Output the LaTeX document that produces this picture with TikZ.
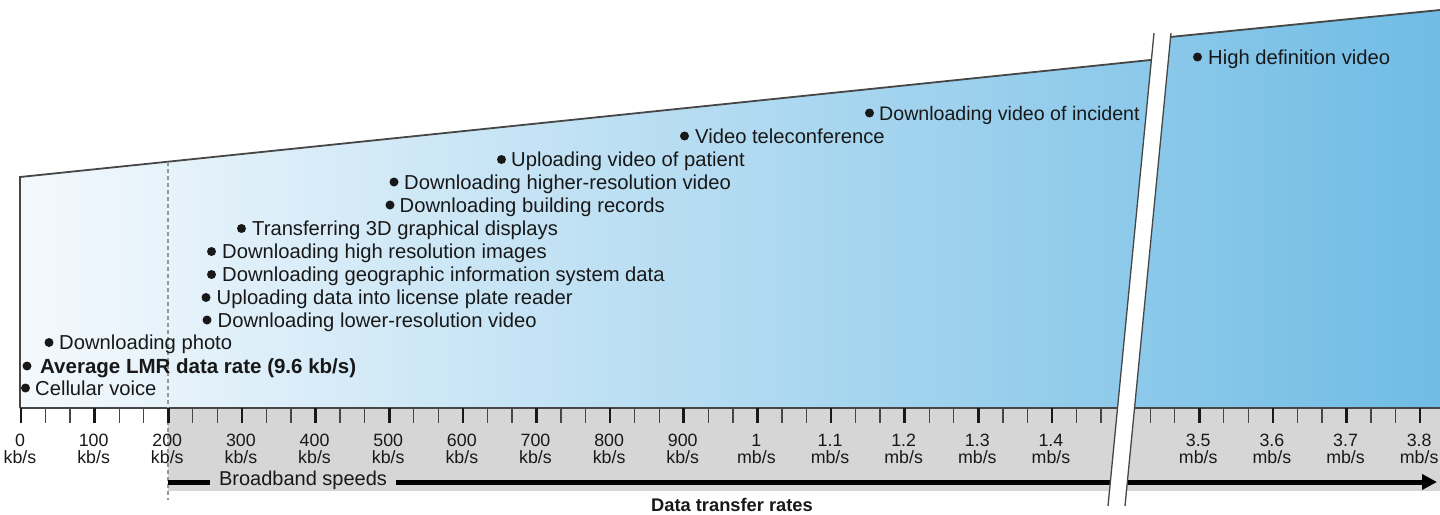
\documentclass[tikz,border=0pt]{standalone}
\usepackage{fontspec}
\setmainfont{Liberation Sans}
\usetikzlibrary{arrows.meta}
\definecolor{bandgray}{RGB}{214,214,214}
\definecolor{edgegray}{RGB}{70,70,70}
\definecolor{blueL}{RGB}{244,249,253}
\definecolor{blueM}{RGB}{192,223,242}
\definecolor{blueR}{RGB}{112,188,229}
\definecolor{txt}{RGB}{24,24,24}
\definecolor{dashgray}{RGB}{150,150,150}
\begin{document}
\begin{tikzpicture}[x=1pt,y=-1pt,
  item/.style={anchor=base west, inner sep=0pt, font=\fontsize{20.2}{24}\selectfont, text=txt},
  bulletdot/.style={circle, fill=txt, inner sep=0pt, minimum size=9pt},
  ticklabel/.style={align=center, inner sep=0pt, font=\fontsize{17.8}{17}\selectfont, text=txt},
  minortick/.style={line width=1.3pt, draw=edgegray},
  majortick/.style={line width=2.6pt, draw=txt},
  edgeline/.style={draw=edgegray, line width=1.8pt}]

\useasboundingbox (0,0) rectangle (1440,514);

% gray scale band
\fill[bandgray] (168,408) rectangle (1440,491);

% blue gradient region
\begin{scope}
\clip (20,408) -- (20,177) -- (1160,59) -- (1160,38) -- (1440,10) -- (1440,408) -- cycle;
\shade[left color=blueL, middle color=blueM, right color=blueR] (20,0) rectangle (1440,408);
\end{scope}

% borders
\draw[edgeline] (20,408) -- (20,177) -- (1160,59);
\draw[edgeline] (1160,38) -- (1440,10);
\draw[edgeline, line width=1.5pt] (20,408) -- (1440,408);

% dashed 200 kb/s line
\draw[draw=dashgray, dash pattern=on 4pt off 3pt, line width=1.2pt] (168,162) -- (168,500);

% ticks
\foreach \k in {0,...,19}{
  \draw[majortick] ({21+73.64*\k},408) -- ++(0,15);
}
\foreach \k in {0,...,18}{
  \draw[minortick] ({21+73.64*(\k+1/3)},408) -- ++(0,15);
  \draw[minortick] ({21+73.64*(\k+2/3)},408) -- ++(0,15);
}

% tick labels
\foreach \k/\n/\u [count=\i] in {0/0/kb,1/100/kb,2/200/kb,3/300/kb,4/400/kb,5/500/kb,6/600/kb,7/700/kb,8/800/kb,9/900/kb,10/1/mb,11/1.1/mb,12/1.2/mb,13/1.3/mb,14/1.4/mb,16/3.5/mb,17/3.6/mb,18/3.7/mb,19/3.8/mb}{
  \node[ticklabel] (lab\i) at ({21+73.64*\k-1},448.5) {\n\\\u/s};
}

% items
\foreach \bx/\by/\tx/\t [count=\i] in {
  25.5/388/35/{Cellular voice},
  49/342.5/59/{Downloading photo},
  207/320/217.5/{Downloading lower-resolution video},
  206/297.5/216.5/{Uploading data into license plate reader},
  211.5/274.5/222/{Downloading geographic information system data},
  211.5/251.5/222/{Downloading high resolution images},
  241.5/228.5/252/{Transferring 3D graphical displays},
  390/205/399.5/{Downloading building records},
  394/182/404/{Downloading higher-resolution video},
  501.5/159.5/511/{Uploading video of patient},
  684.5/136/695/{Video teleconference},
  1197.5/57/1208/{High definition video}}{
  \node[bulletdot] (dot\i) at (\bx,\by) {};
  \node[item] (item\i) at (\tx,\by+7) {\t};
}
\node[bulletdot] (dotInc) at (869.5,113) {};
\node[item, font=\fontsize{19.6}{24}\selectfont] (itemInc) at (879,120) {Downloading video of incident};
\node[bulletdot] (dotLMR) at (27,366) {};
\node[item, font=\bfseries\fontsize{20.5}{24}\selectfont] (itemLMR) at (40,373) {Average LMR data rate (9.6 kb/s)};

% broadband arrow
\coordinate (arrS) at (168,482);
\coordinate (arrE) at (1437,482);
\draw[line width=5pt, draw=black, -{Triangle[length=15pt,width=15pt]}] (arrS) -- (arrE);
\node[fill=bandgray, inner xsep=9pt, inner ysep=1pt, font=\fontsize{20}{24}\selectfont, text=txt] (bb) at (303,480) {Broadband speeds};

\node[font=\bfseries\fontsize{18.3}{22}\selectfont, text=txt, inner sep=0pt] (dtr) at (732,505) {Data transfer rates};

% break
\fill[white] (1154,33) -- (1171,33) -- (1125,506) -- (1108,506) -- cycle;
\draw[edgeline, line width=1.3pt] (1154,33) -- (1108,506);
\draw[edgeline, line width=1.3pt] (1171,33) -- (1125,506);
\end{tikzpicture}
\end{document}
